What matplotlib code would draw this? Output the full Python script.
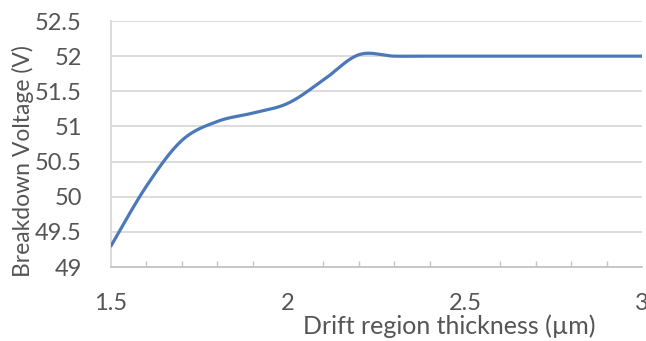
import numpy as np
import matplotlib
matplotlib.use("Agg")
import matplotlib.pyplot as plt
from matplotlib.ticker import MultipleLocator

# Breakdown voltage vs drift region thickness
thickness = [1.5, 1.6, 1.7, 1.8, 1.9, 2.0, 2.1, 2.2, 2.3, 2.4, 2.5,
             2.6, 2.7, 2.8, 2.9, 3.0]
voltage = [49.3, 50.15, 50.8, 51.07, 51.19, 51.33, 51.66, 52.02, 52.0, 52.0,
           52.0, 52.0, 52.0, 52.0, 52.0, 52.0]
y_ticks = [49, 49.5, 50, 50.5, 51, 51.5, 52, 52.5]
x_ticks = [1.5, 2, 2.5, 3]


def smooth_curve(x, y, n=40):
    """Catmull-Rom style smoothing through the data points (spreadsheet 'smoothed line')."""
    x = np.asarray(x, float)
    y = np.asarray(y, float)
    px = np.concatenate([[x[0]], x, [x[-1]]])
    py = np.concatenate([[y[0]], y, [y[-1]]])
    xs, ys = [], []
    t = np.linspace(0, 1, n)
    for i in range(1, len(px) - 2):
        p0 = np.array([px[i], py[i]])
        p3 = np.array([px[i + 1], py[i + 1]])
        c1 = p0 + (np.array([px[i + 1], py[i + 1]]) - np.array([px[i - 1], py[i - 1]])) / 6
        c2 = p3 - (np.array([px[i + 2], py[i + 2]]) - np.array([px[i], py[i]])) / 6
        b = ((1 - t) ** 3)[:, None] * p0 + (3 * (1 - t) ** 2 * t)[:, None] * c1 \
            + (3 * (1 - t) * t ** 2)[:, None] * c2 + (t ** 3)[:, None] * p3
        xs.append(b[:, 0])
        ys.append(b[:, 1])
    return np.concatenate(xs), np.concatenate(ys)


text_color = "#555555"
grid_color = "#d9d9d9"
plt.rcParams["font.family"] = ["Lato", "DejaVu Sans"]

fig = plt.figure(figsize=(6.46, 3.41), dpi=100)
ax = fig.add_axes([111 / 646, 74 / 341, 531 / 646, 246 / 341])

sx, sy = smooth_curve(thickness, voltage)
ax.plot(sx, sy, color="#4a78b8", linewidth=2.3, solid_capstyle="round", zorder=3)

ax.set_xlim(1.5, 3.0)
ax.set_ylim(49, 52.5)
ax.set_yticks(y_ticks)
ax.set_yticklabels([f"{v:g}" for v in y_ticks])
ax.set_xticks(x_ticks)
ax.set_xticklabels([f"{v:g}" for v in x_ticks])
ax.xaxis.set_minor_locator(MultipleLocator(0.1))

ax.grid(axis="y", color=grid_color, linewidth=1.3)
ax.set_axisbelow(True)
for s in ["top", "right"]:
    ax.spines[s].set_visible(False)
ax.spines["left"].set_color(grid_color)
ax.spines["left"].set_linewidth(1.3)
ax.spines["bottom"].set_color("#c4c4c4")
ax.spines["bottom"].set_linewidth(1.3)

ax.tick_params(axis="y", length=0, pad=21, labelsize=17, labelcolor=text_color)
ax.tick_params(axis="x", which="major", length=0, pad=19, labelsize=17,
               labelcolor=text_color)
ax.tick_params(axis="x", which="minor", direction="in", length=4, width=1,
               color="#c4c4c4")

fig.text(23 / 646, 1 - 161 / 341, "Breakdown Voltage (V)", rotation=90,
         ha="center", va="center", fontsize=16.5, color=text_color)
fig.text(449 / 646, 1 - 326 / 341, "Drift region thickness (\u00b5m)",
         ha="center", va="center", fontsize=18, color=text_color)

fig.savefig("out.png", dpi=100)
